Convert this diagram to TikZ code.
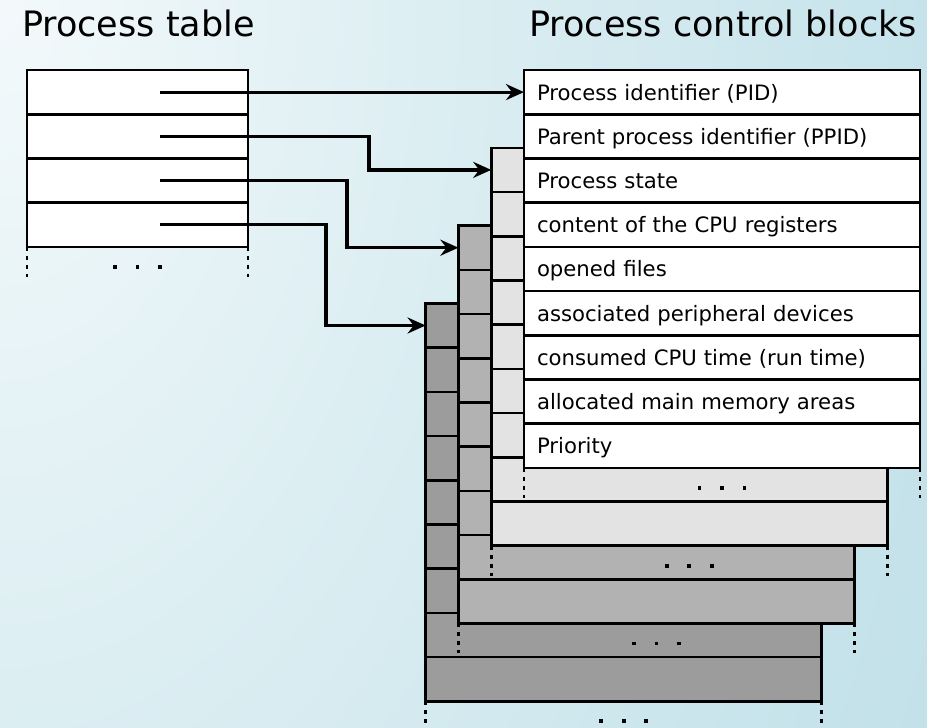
\documentclass[tikz,border=0pt]{standalone}
\usepackage{fontspec}
\setmainfont{DejaVu Sans}
\usetikzlibrary{arrows.meta}

% background glow
\definecolor{bgA}{HTML}{F3F9FB}
\definecolor{bgB}{HTML}{DCEEF2}
\definecolor{bgC}{HTML}{C6E3EB}
\definecolor{bgD}{HTML}{C3E1E9}
\definecolor{bgE}{HTML}{C0DFE8}
% fills of the stacked control blocks, front to back
\definecolor{pcbA}{HTML}{FFFFFF}
\definecolor{pcbB}{HTML}{E3E3E3}
\definecolor{pcbC}{HTML}{B2B2B2}
\definecolor{pcbD}{HTML}{9C9C9C}

\pgfdeclareradialshading{bgglow}{\pgfpoint{0bp}{0bp}}{%
  color(0bp)=(bgA); color(15.6bp)=(bgB); color(33bp)=(bgC);
  color(37bp)=(bgD); color(50bp)=(bgE)}

\tikzset{
  cell/.style={draw, line width=2.6pt, inner sep=0pt, outer sep=0pt,
    minimum height=44.2pt, anchor=north west},
  pcbrow/.style={cell, minimum width=396pt},
  fieldrow/.style={pcbrow, fill=pcbA, text width=370pt, align=left,
    inner xsep=13pt, text height=16pt, text depth=0pt,
    font=\fontsize{21.2}{25}\selectfont},
  tablerow/.style={cell, minimum width=221pt, fill=white},
  dotline/.style={line width=2.6pt, dash pattern=on 4pt off 5pt},
  link/.style={line width=3.2pt, line join=miter,
    -{Stealth[length=18pt, width=16pt, inset=6pt]}},
  heading/.style={inner sep=0pt, font=\fontsize{35}{40}\selectfont},
  ellipsis/.pic={\foreach \dx in {-22.5,0,22.5}
    \fill ({\dx-1.9},-1.9) rectangle ++(3.8,3.8);}
}

\begin{document}
\begin{tikzpicture}[x=1pt, y=-1pt]
\useasboundingbox (0,0) rectangle (927,728);

% background: elliptical glow spreading from the upper left corner
\begin{scope}
  \clip (0,0) rectangle (927,728);
  \pgflowlevelobj{\pgftransformxscale{27.9}\pgftransformyscale{44.7}}%
    {\pgfuseshading{bgglow}}
\end{scope}

% headings
\node[heading, anchor=base west] (ptitle) at (22,36) {Process table};
\node[heading, anchor=base east] (ctitle) at (917,36) {Process control blocks};

% process table
\foreach \i in {1,...,4} {
  \pgfmathsetmacro\ry{70+44.2*(\i-1)}
  \node[tablerow] (pt\i) at (27,\ry) {};
}
\draw[dotline] (pt4.south west) -- ++(0,30);
\draw[dotline] (pt4.south east) -- ++(0,30);
\path (pt4.south) ++(0,20) pic {ellipsis};

% control blocks lying behind the front one
\foreach \k/\fc in {4/pcbD,3/pcbC,2/pcbB} {
  \pgfmathsetmacro\lx{524-32.8*(\k-1)}
  \foreach \i in {1,...,9} {
    \pgfmathsetmacro\ry{70+77.8*(\k-1)+44.2*(\i-1)}
    \node[pcbrow, fill=\fc] (L\k r\i) at (\lx,\ry) {};
  }
  \draw[dotline] (L\k r9.south west) -- ++(0,30);
  \draw[dotline] (L\k r9.south east) -- ++(0,30);
  \path (L\k r9.south) ++(0,20) pic {ellipsis};
}

% front control block with its fields
\foreach \i/\t in {1/Process identifier (PID),
                   2/Parent process identifier (PPID),
                   3/Process state,
                   4/content of the CPU registers,
                   5/opened files,
                   6/associated peripheral devices,
                   7/consumed CPU time (run time),
                   8/allocated main memory areas,
                   9/Priority} {
  \pgfmathsetmacro\ry{70+44.2*(\i-1)}
  \node[fieldrow] (L1r\i) at (524,\ry) {\t};
}
\draw[dotline] (L1r9.south west) -- ++(0,30);
\draw[dotline] (L1r9.south east) -- ++(0,30);
\path (L1r9.south) ++(0,20) pic {ellipsis};

% pointers from the table entries to the blocks
\foreach \i in {1,...,4}
  \coordinate (s\i) at ([xshift=-88pt]pt\i.east);
\coordinate (b2) at (369,0);
\coordinate (b3) at (347,0);
\coordinate (b4) at (326,0);

\draw[link] (s1) -- (L1r1.west);
\draw[link] (s2) -| (b2 |- L2r1.west) -- (L2r1.west);
\draw[link] (s3) -| (b3 |- L3r1.west) -- (L3r1.west);
\draw[link] (s4) -| (b4 |- L4r1.west) -- (L4r1.west);
\end{tikzpicture}
\end{document}
